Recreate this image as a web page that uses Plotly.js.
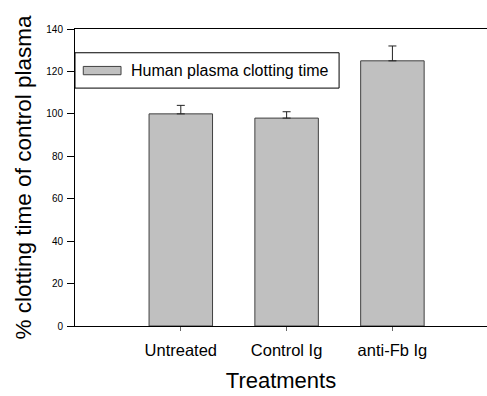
<!DOCTYPE html>
<html>
<head>
<meta charset="utf-8">
<script src="https://cdn.plot.ly/plotly-3.0.1.min.js"></script>
<style>html,body{margin:0;padding:0;background:#fff;}#chart{width:487px;height:396px;}</style>
</head>
<body>
<div id="chart"></div>
<script>
var categories = ["Untreated", "Control Ig", "anti-Fb Ig"];
var values = [100, 98, 125];
var errorsUp = [4, 3, 7];
var seriesName = "Human plasma clotting time";
var yTicks = [0, 20, 40, 60, 80, 100, 120, 140];

var trace = {
  type: "bar",
  x: categories,
  y: values,
  width: 0.6,
  marker: {color: "#c0c0c0", line: {color: "#404040", width: 1}},
  error_y: {type: "data", symmetric: false, array: errorsUp, arrayminus: [0,0,0], color: "#222", thickness: 1, width: 4},
  showlegend: false
};

var FONT = "'Liberation Sans', Arial, sans-serif";

var layout = {
  width: 487, height: 396,
  margin: {l: 75, r: 0, t: 28.5, b: 70, autoexpand: false},
  paper_bgcolor: "#fff", plot_bgcolor: "#fff",
  font: {family: FONT, color: "#000"},
  bargap: 0.4,
  xaxis: {
    type: "category",
    range: [-1, 2.894],
    automargin: false,
    showline: true, linecolor: "#000", linewidth: 1, mirror: true,
    ticks: "outside", ticklen: 4, tickcolor: "#666",
    ticklabelstandoff: 5,
    tickfont: {family: FONT, size: 16.5},
    showgrid: false, zeroline: false,
    title: {text: "Treatments", font: {family: FONT, size: 22}, standoff: 14}
  },
  yaxis: {
    range: [0, 140],
    automargin: false,
    tickvals: yTicks,
    showline: true, linecolor: "#000", linewidth: 1,
    ticks: "outside", ticklen: 7, tickcolor: "#000",
    ticklabelstandoff: 2,
    tickfont: {family: FONT, size: 10},
    showgrid: false, zeroline: false,
    title: {text: "% clotting time of control plasma", font: {family: FONT, size: 22.5}, standoff: 8}
  },
  shapes: [
    {type: "rect", xref: "paper", yref: "paper", x0: 0, x1: 0.641, y0: 0.801, y1: 0.920,
     line: {color: "#000", width: 1}, fillcolor: "#fff", layer: "above"},
    {type: "rect", xref: "paper", yref: "paper", x0: 0.0201, x1: 0.1117, y0: 0.846, y1: 0.874,
     line: {color: "#404040", width: 1}, fillcolor: "#c0c0c0", layer: "above"}
  ],
  annotations: [
    {xref: "paper", yref: "paper", x: 0.1316, y: 0.861, xanchor: "left", yanchor: "middle",
     text: seriesName, showarrow: false, font: {family: FONT, size: 16, color: "#000"}}
  ]
};

Plotly.newPlot("chart", [trace], layout, {displayModeBar: false, staticPlot: true});
</script>
</body>
</html>
